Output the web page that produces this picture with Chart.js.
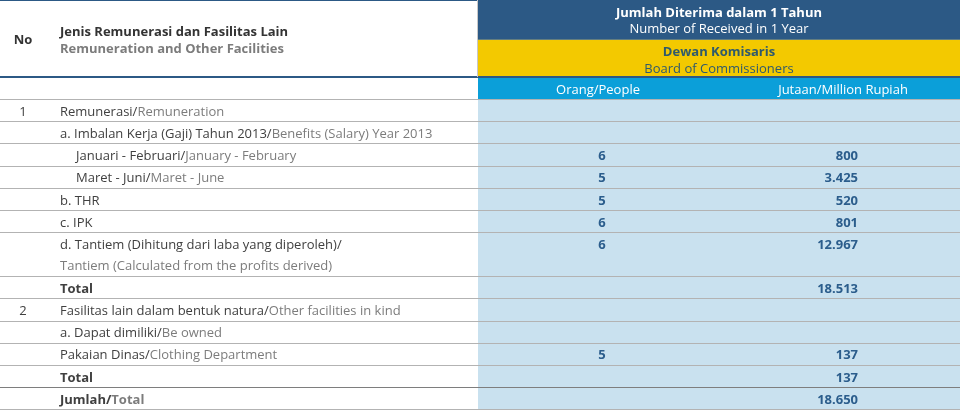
<!DOCTYPE html>
<html>
<head>
<meta charset="utf-8">
<script src="https://cdn.jsdelivr.net/npm/chart.js@4.4.0/dist/chart.umd.min.js"></script>
<style>
  html, body { margin: 0; padding: 0; background: #fff; }
  #table { display: block; }
</style>
</head>
<body>
<canvas id="table" width="966" height="414"></canvas>
<script>
// table content
const rowNo = ["1", "", "", "", "", "", "", "", "2", "", "", "", ""];
const labelId = [
  "Remunerasi/", "a. Imbalan Kerja (Gaji) Tahun 2013/", "Januari - Februari/", "Maret - Juni/",
  "b. THR", "c. IPK", "d. Tantiem (Dihitung dari laba yang diperoleh)/", "Total",
  "Fasilitas lain dalam bentuk natura/", "a. Dapat dimiliki/", "Pakaian Dinas/", "Total", "Jumlah/"
];
const labelEn = [
  "Remuneration", "Benefits (Salary) Year 2013", "January - February", "Maret - June",
  "", "", "Tantiem (Calculated from the profits derived)", "",
  "Other facilities in kind", "Be owned", "Clothing Department", "", "Total"
];
const people = [null, null, 6, 5, 5, 6, 6, null, null, null, 5, null, null];
const rupiah = [null, null, 800, 3425, 520, 801, 12967, 18513, null, null, 137, 137, 18650];

// layout of rows (in row units)
const rowSpan = [1, 1, 1, 1, 1, 1, 2, 1, 1, 1, 1, 1, 1];
const rowIndent = [0, 0, 1, 1, 0, 0, 0, 0, 0, 0, 0, 0, 0];
const rowBold = [false, false, false, false, false, false, false, true, false, false, false, true, true];
const enOnNewLine = [false, false, false, false, false, false, true, false, false, false, false, false, false];

const HEAD_NAVY = 1.8, HEAD_YELLOW = 1.68, HEAD_CYAN = 1.0;
const HEAD = HEAD_NAVY + HEAD_YELLOW + HEAD_CYAN;
const Y_MAX = 18.7;

const col = { no: 23, label: 60, indent: 16, split: 478, right: 960, people: 602, rupiah: 858 };

const FONT = '"Open Sans", sans-serif';
const DY = 2; // baseline nudge for "middle"
const C = {
  navy: "#2c5985", yellow: "#f3c900", cyan: "#0b9fd9", pale: "#c9e1ef",
  dark: "#404040", light: "#7c7c7c", num: "#2b5d8c", line: "#b3b3b3", yellowText: "#2f5a6c"
};

// row tops
const rowTop = [];
let acc = HEAD;
rowSpan.forEach((s) => { rowTop.push(acc); acc += s; });
const BODY_END = acc;

function fmt(v) {
  return String(v).replace(/\B(?=(\d{3})+(?!\d))/g, ".");
}

const pointsPeople = [];
people.forEach((v, i) => { if (v !== null) pointsPeople.push({ x: col.people, y: rowTop[i] + 0.5, v: v }); });
const pointsRupiah = [];
rupiah.forEach((v, i) => { if (v !== null) pointsRupiah.push({ x: col.rupiah, y: rowTop[i] + 0.5, v: v }); });

const tablePlugin = {
  id: "tablePlugin",
  beforeDatasetsDraw(chart) {
    const { ctx, scales: { x, y } } = chart;
    const px = (v) => x.getPixelForValue(v);
    const py = (v) => y.getPixelForValue(v);
    ctx.save();
    // header bands
    ctx.fillStyle = C.navy;
    ctx.fillRect(px(col.split), py(0), px(col.right) - px(col.split), py(HEAD_NAVY) - py(0));
    ctx.fillStyle = C.yellow;
    ctx.fillRect(px(col.split), py(HEAD_NAVY), px(col.right) - px(col.split), py(HEAD_NAVY + HEAD_YELLOW) - py(HEAD_NAVY));
    ctx.fillStyle = C.cyan;
    ctx.fillRect(px(col.split), py(HEAD_NAVY + HEAD_YELLOW), px(col.right) - px(col.split), py(HEAD) - py(HEAD_NAVY + HEAD_YELLOW));
    ctx.fillStyle = C.pale;
    ctx.fillRect(px(col.split), py(HEAD), px(col.right) - px(col.split), py(BODY_END) - py(HEAD));

    // top rule and header bottom rule
    ctx.fillStyle = C.navy;
    ctx.fillRect(px(0), py(0), px(col.right) - px(0), 1);
    ctx.fillRect(px(0), Math.round(py(HEAD_NAVY + HEAD_YELLOW)) - 1, px(col.right) - px(0), 2);
    ctx.fillStyle = "#c8c8c8";
    ctx.fillRect(Math.round(px(col.split)) - 1, py(0), 1, py(HEAD_NAVY + HEAD_YELLOW) - py(0));

    // row rules
    const rules = [HEAD].concat(rowTop.slice(1)).concat([BODY_END]);
    rules.forEach((r, i) => {
      ctx.fillStyle = (i === rules.length - 2) ? "#7e7e7e" : C.line;
      ctx.fillRect(px(0), Math.round(py(r)), px(col.right) - px(0), 1);
    });

    // header text
    ctx.textBaseline = "middle";
    ctx.textAlign = "center";
    ctx.fillStyle = "#333";
    ctx.font = "bold 13px " + FONT;
    ctx.fillText("No", px(col.no), py((HEAD_NAVY + HEAD_YELLOW) / 2) + DY);
    ctx.textAlign = "left";
    ctx.fillText("Jenis Remunerasi dan Fasilitas Lain", px(col.label), py((HEAD_NAVY + HEAD_YELLOW) / 2 - 0.38) + DY + 0.5);
    ctx.fillStyle = C.light;
    ctx.fillText("Remuneration and Other Facilities", px(col.label), py((HEAD_NAVY + HEAD_YELLOW) / 2 + 0.38) + DY + 0.5);

    const mid = (px(col.split) + px(col.right)) / 2;
    ctx.textAlign = "center";
    ctx.fillStyle = "#fff";
    ctx.font = "bold 13px " + FONT;
    ctx.fillText("Jumlah Diterima dalam 1 Tahun", mid, py(0.52) + DY);
    ctx.font = "13px " + FONT;
    ctx.fillText("Number of Received in 1 Year", mid, py(1.25) + DY);
    ctx.fillStyle = C.yellowText;
    ctx.font = "bold 13px " + FONT;
    ctx.fillText("Dewan Komisaris", mid, py(HEAD_NAVY + 0.46) + DY);
    ctx.font = "13px " + FONT;
    ctx.fillText("Board of Commissioners", mid, py(HEAD_NAVY + 1.22) + DY);
    ctx.fillStyle = "#fff";
    ctx.fillText("Orang/People", px(598), py(HEAD - 0.5) + DY);
    ctx.fillText("Jutaan/Million Rupiah", px(843), py(HEAD - 0.5) + DY);

    // body labels
    labelId.forEach((t, i) => {
      const cy = py(rowTop[i] + 0.5) + DY;
      ctx.font = (rowBold[i] ? "bold " : "") + "13px " + FONT;
      ctx.textAlign = "center";
      ctx.fillStyle = C.dark;
      if (rowNo[i]) ctx.fillText(rowNo[i], px(col.no), cy);
      ctx.textAlign = "left";
      const x0 = px(col.label + rowIndent[i] * col.indent);
      ctx.fillStyle = C.dark;
      ctx.fillText(t, x0, cy);
      if (labelEn[i]) {
        ctx.fillStyle = C.light;
        if (enOnNewLine[i]) {
          ctx.fillText(labelEn[i], x0, py(rowTop[i] + 1.45) + DY);
        } else {
          ctx.fillText(labelEn[i], x0 + ctx.measureText(t).width, cy);
        }
      }
    });
    ctx.restore();
  },
  afterDatasetsDraw(chart) {
    const { ctx } = chart;
    ctx.save();
    ctx.font = "bold 13px " + FONT;
    ctx.fillStyle = C.num;
    ctx.textBaseline = "middle";
    ["center", "right"].forEach((align, di) => {
      ctx.textAlign = align;
      const pts = chart.data.datasets[di].data;
      chart.getDatasetMeta(di).data.forEach((el, i) => {
        ctx.fillText(fmt(pts[i].v), el.x, el.y + DY);
      });
    });
    ctx.restore();
  }
};

new Chart(document.getElementById("table"), {
  type: "scatter",
  data: {
    datasets: [
      { label: "Orang/People", data: pointsPeople, pointRadius: 0, pointHoverRadius: 0 },
      { label: "Jutaan/Million Rupiah", data: pointsRupiah, pointRadius: 0, pointHoverRadius: 0 }
    ]
  },
  options: {
    responsive: false,
    animation: false,
    devicePixelRatio: 1,
    layout: { padding: 0 },
    events: [],
    scales: {
      x: { type: "linear", min: 0, max: 966, display: false },
      y: { type: "linear", min: 0, max: Y_MAX, reverse: true, display: false }
    },
    plugins: { legend: { display: false }, tooltip: { enabled: false } }
  },
  plugins: [tablePlugin]
});
</script>
</body>
</html>
